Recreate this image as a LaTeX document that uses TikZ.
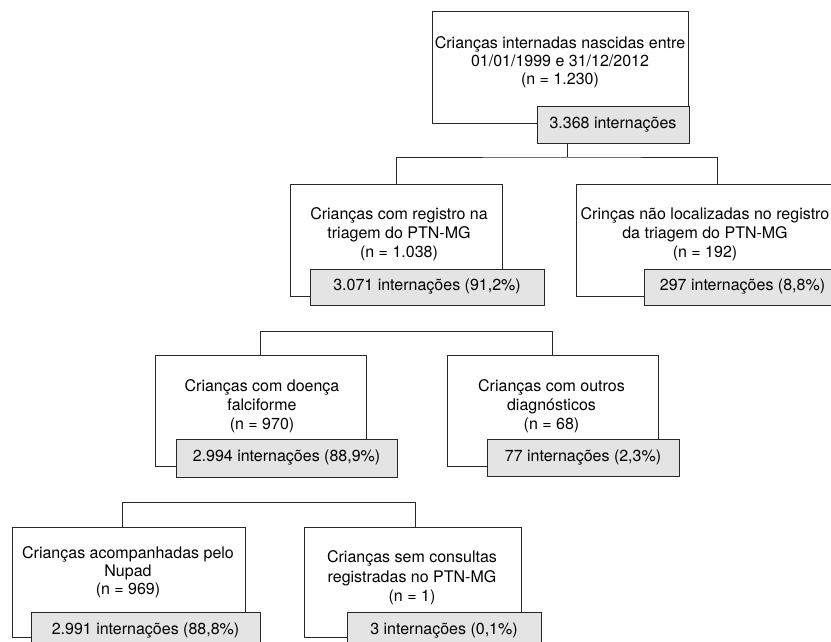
\documentclass[tikz,border=0pt]{standalone}
\usepackage{fontspec}
\setmainfont{TeX Gyre Heros}
\usetikzlibrary{calc}

\definecolor{cinzaclaro}{RGB}{228,228,228}
\definecolor{traco}{RGB}{40,40,40}

\tikzset{
  caixa/.style={draw=traco, fill=white, line width=1pt, inner sep=0pt},
  cinza/.style={draw=traco, fill=cinzaclaro, line width=1pt, inner sep=0pt,
    font=\fontsize{16}{19}\selectfont},
  rotulo/.style={align=center, inner sep=0pt, anchor=north,
    font=\fontsize{16}{19}\selectfont},
  liga/.style={draw=traco, line width=1pt}
}

\begin{document}
\begin{tikzpicture}[x=1pt,y=-1pt]

 \useasboundingbox (0,0) rectangle (831,642);

 % nivel 0
 \node[caixa, minimum width=256, minimum height=112] (b0) at (560,68) {};
 \node[rotulo, font=\fontsize{16}{18}\selectfont] (t0) at (560,36.5)
   {Crianças internadas nascidas entre\\01/01/1999 e 31/12/2012\\(n = 1.230)};
 \node[cinza, minimum width=152, minimum height=36] (g0) at (613,125) {3.368 internações};

 % nivel 1
 \node[caixa, minimum width=212, minimum height=112] (b1) at (396,240) {};
 \node[rotulo] (t1) at (399,207.5)
   {Crianças com registro na\\triagem do PTN-MG\\(n = 1.038)};
 \node[cinza, minimum width=234, minimum height=36] (g1) at (427,287) {3.071 internações (91,2\%)};

 \node[caixa, minimum width=258, minimum height=112] (b2) at (705,240) {};
 \node[rotulo] (t2) at (705,207.5)
   {Crinças não localizadas no registro\\da triagem do PTN-MG\\(n = 192)};
 \node[cinza, minimum width=197, minimum height=36] (g2) at (742.5,287) {297 internações (8,8\%)};

 % nivel 2
 \node[caixa, minimum width=211, minimum height=111] (b3) at (260.5,410.5) {};
 \node[rotulo] (t3) at (262,379.5)
   {Crianças com doença\\falciforme\\(n = 970)};
 \node[cinza, minimum width=221, minimum height=38] (g3) at (286.5,458) {2.994 internações (88,9\%)};

 \node[caixa, minimum width=211, minimum height=111] (b4) at (552.5,410.5) {};
 \node[rotulo] (t4) at (551.5,379.5)
   {Crianças com outros\\diagnósticos\\(n = 68)};
 \node[cinza, minimum width=192, minimum height=37] (g4) at (583,458) {77 internações (2,3\%)};

 % nivel 3
 \node[caixa, minimum width=233, minimum height=110] (b5) at (128.5,582) {};
 \node[rotulo, font=\fontsize{16}{18}\selectfont] (t5) at (128,546.5)
   {Crianças acompanhadas pelo\\Nupad\\(n = 969)};
 \node[cinza, minimum width=229, minimum height=38] (g5) at (145.5,631) {2.991 internações (88,8\%)};

 \node[caixa, minimum width=217, minimum height=110] (b6) at (412.5,582) {};
 \node[rotulo, font=\fontsize{16}{19.5}\selectfont] (t6) at (412,550.5)
   {Crianças sem consultas\\registradas no PTN-MG\\(n = 1)};
 \node[cinza, minimum width=194, minimum height=38] (g6) at (444,631) {3 internações (0,1\%)};

 % ligacoes
 \coordinate (j0) at (567,157);
 \draw[liga] (j0 |- g0.south) -- (j0);
 \draw[liga] (b1.north) |- (j0) -| ([xshift=12]b2.north);
 \draw[liga] (b3.north) -- ++(0,-23) -| (b4.north);
 \draw[liga] ([xshift=-6.5]b5.north) -- ++(0,-24) -| ([xshift=2.5]b6.north);

\end{tikzpicture}
\end{document}
